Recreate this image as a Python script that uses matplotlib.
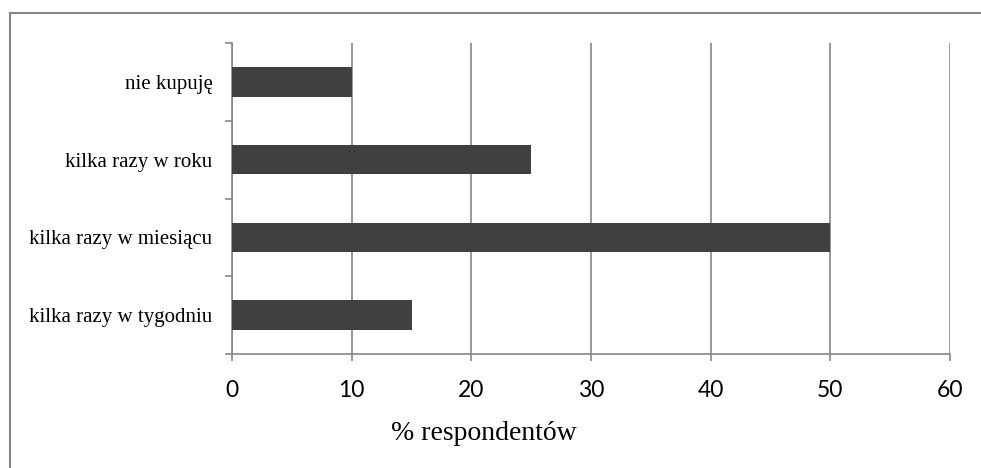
import matplotlib.pyplot as plt
from matplotlib.lines import Line2D

kategorie = ['kilka razy w tygodniu', 'kilka razy w miesiącu', 'kilka razy w roku', 'nie kupuję']
procent = [15, 50, 25, 10]
xticks = [0, 10, 20, 30, 40, 50, 60]

szary = '#868686'

fig = plt.figure(figsize=(9.81, 4.68), dpi=100)
ax = fig.add_axes([232/981, 1 - 354/468, (950-232)/981, (354-43)/468])

ax.barh(range(len(kategorie)), procent, height=0.38, color='#404040', zorder=3)

ax.set_xlim(0, 60)
ax.set_ylim(-0.5, len(kategorie) - 0.5)
ax.set_xticks(xticks)
ax.set_xticklabels([str(v) for v in xticks], fontfamily='Lato', fontsize=16.5)
ax.set_yticks([i - 0.5 for i in range(len(kategorie) + 1)])
ax.set_yticklabels([])
ax.set_yticks(range(len(kategorie)), minor=True)
ax.set_yticklabels(kategorie, minor=True, fontfamily='Liberation Serif', fontsize=15)
ax.tick_params(axis='y', which='minor', length=0, pad=14)
ax.tick_params(axis='y', which='major', length=5, width=1.2, color=szary, direction='out')
ax.tick_params(axis='x', length=5, width=1.2, color=szary, direction='out', pad=13.5)

ax.grid(axis='x', color=szary, linewidth=1.2, zorder=0)
for s in ['top', 'right']:
    ax.spines[s].set_visible(False)
for s in ['left', 'bottom']:
    ax.spines[s].set_color(szary)
    ax.spines[s].set_linewidth(1.2)

# podpis osi X przesunięty jak w oryginale
fig.text(484/981, 1 - 433/468, '% respondentów', fontfamily='Liberation Serif',
         fontsize=20, ha='center', va='center')

# ramka wykresu
fig.add_artist(Line2D([10/981, 10/981], [0, 1 - 13/468], color=szary, linewidth=1.5))
fig.add_artist(Line2D([10/981, 1], [1 - 13/468, 1 - 13/468], color=szary, linewidth=1.5))

fig.savefig('out.png', dpi=100)
